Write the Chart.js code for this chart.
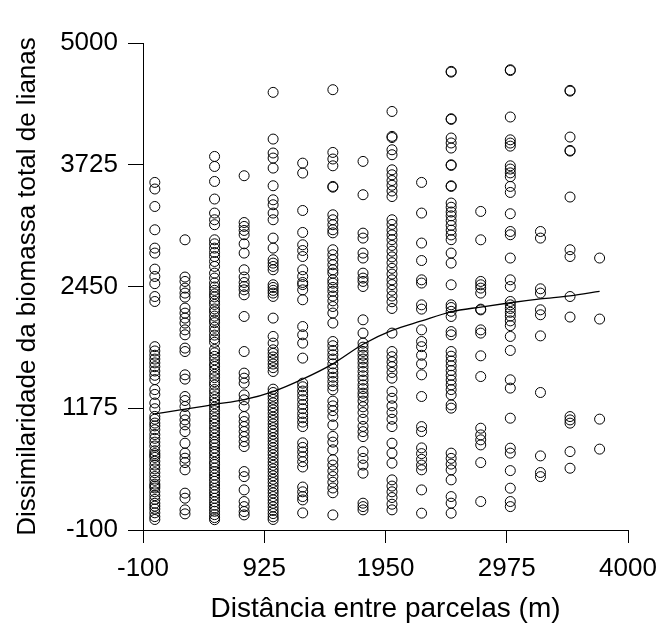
<!DOCTYPE html>
<html>
<head>
<meta charset="utf-8">
<script src="https://cdn.jsdelivr.net/npm/chart.js@4/dist/chart.umd.min.js"></script>
<style>
  html, body { margin: 0; padding: 0; background: #ffffff; }
  #wrap { width: 662px; height: 626px; }
</style>
</head>
<body>
<div id="wrap"><canvas id="c" width="662" height="626"></canvas></div>
<script>
// Tick labels
const xTicks = [-100, 925, 1950, 2975, 4000];
const yTicks = [-100, 1175, 2450, 3725, 5000];

// Distances (m) of each column of points
const distances = [0, 255, 505, 755, 1000, 1250, 1505, 1760, 2005, 2255, 2505, 2755, 3005, 3260, 3510, 3760];

// Dissimilarity values read for each distance
const d0 = [3540, 3471, 3288, 3044, 2852, 2800, 2632, 2555, 2480, 2345, 2293,
  1820, 1775, 1730, 1690, 1650, 1610, 1565, 1520, 1475, 1370, 1320, 1230, 1170,
  1090, 1060, 1020, 990, 950, 900, 860, 820, 780, 730, 700, 680, 660, 620, 580, 540, 500, 460, 420, 380, 360, 340, 300, 260, 220, 180, 150, 120, 80, 40, 10];
const d250 = [2939, 2549, 2503, 2433, 2381, 2339, 2224, 2171, 2119, 2067, 1996, 1944, 1805, 1769, 1525, 1480, 1298, 1256, 1193, 1106, 1053, 1001, 931, 809, 705, 652, 606, 530, 286, 233, 111, 69];
const d500 = [3812, 3707, 3550, 3366, 3219, 3149, 3097, 2939, 2897, 2852, 2806, 2764, 2712, 2660, 2590, 2538, 2486,
  2445, 2410, 2372, 2341, 2296, 2262, 2215, 2183, 2140, 2098, 2071, 2024, 1985, 1941, 1902, 1866, 1790, 1755, 1718, 1682, 1640, 1611, 1572, 1530, 1496, 1452, 1418, 1371, 1337, 1296, 1262, 1225, 1187, 1150, 1113, 1075, 1042, 1006, 968, 931, 897, 860, 822, 795, 758, 721, 690, 652, 611, 585, 548, 512, 476, 441, 409, 372, 335, 301, 268, 232, 195, 160, 128, 96, 61, 30, 8];
const d750 = [3610, 3120, 3079, 3037, 2992, 2897, 2800, 2625, 2549, 2492, 2450, 2415, 2363, 2136, 1769, 1543, 1490, 1438, 1315, 1263, 1193, 1088, 1036, 983, 931, 878, 826, 774, 512, 459, 320, 198, 145, 93, 58];
const d1000 = [4483, 3994, 3848, 3795, 3690, 3505, 3358, 3306, 3219, 3149, 2957, 2852, 2730, 2695, 2660, 2625, 2468, 2440, 2410, 2381, 2346, 2119, 1927, 1857, 1787, 1750, 1712, 1675, 1638, 1600, 1560,
  1375, 1340, 1302, 1268, 1231, 1190, 1158, 1121, 1082, 1047, 1010, 972, 940, 903, 866, 830, 795, 760, 722, 688, 650, 612, 577, 540, 505, 468, 431, 397, 360, 322, 288, 250, 215, 180, 142, 105, 72, 38, 10];
const d1250 = [3742, 3638, 3246, 3016, 2887, 2827, 2764, 2625, 2555, 2492, 2470, 2415, 2311, 2031, 1944, 1857, 1700, 1438, 1400, 1355, 1310, 1265, 1215, 1170, 1120, 1075, 1030, 983, 813, 765, 718, 668, 615, 560, 350, 300, 250, 215, 79];
const d1500 = [4511, 3854, 3785, 3714, 3498, 3490, 3201, 3149, 3097, 3044, 3012, 2835, 2783, 2730, 2678, 2625, 2590, 2520, 2485, 2440, 2400, 2350, 2300, 2240, 2172, 2067,
  1874, 1830, 1780, 1735, 1690, 1640, 1590, 1545, 1500, 1455, 1410, 1368, 1250, 1200, 1150, 1090, 1000, 880, 820, 740, 635, 580, 520, 460, 400, 340, 290, 58];
const d1750 = [3760, 3411, 3009, 2957, 2800, 2748, 2590, 2538, 2503, 2450, 2101, 1962, 1857, 1815, 1770, 1730, 1690, 1650, 1605, 1560, 1515, 1470, 1420, 1380, 1333, 1298, 1250, 1190, 1130, 1060, 985, 930, 878, 721, 650, 580, 495, 181, 145, 111];
const d2000 = [4283, 4022, 4010, 3882, 3830, 3672, 3620, 3560, 3510, 3450, 3392, 3149, 3100, 3040, 2990, 2940, 2880, 2820, 2760, 2700, 2640, 2580, 2520, 2470, 2410, 2350, 2290, 2220, 1962, 1769, 1715, 1660, 1610, 1550, 1490, 1350, 1280, 1200, 1130, 1060, 983, 809, 705, 600, 425, 360, 300, 240, 170, 111];
const d2250 = [3540, 3219, 2905, 2722, 2520, 2486, 2258, 2213, 1996, 1874, 1820, 1730, 1640, 1525, 1298, 983, 931, 760, 700, 640, 580, 530, 320, 76];
const d2500 = [4703, 4695, 4207, 4200, 4005, 3953, 3900, 3725, 3718, 3505, 3498, 3324, 3280, 3230, 3190, 3140, 3090, 3040, 2990, 2940, 2800, 2695, 2468, 2258, 2230, 2190, 2136, 1978, 1944, 1769, 1720, 1670, 1620, 1570, 1520, 1470, 1420, 1370, 1315, 1210, 1176, 705, 650, 590, 530, 425, 250, 181, 76];
const d2750 = [3236, 2939, 2503, 2468, 2433, 2381, 2213, 2205, 1996, 1962, 1724, 1507, 966, 896, 844, 791, 606, 198];
const d3000 = [4720, 4712, 4225, 3986, 3952, 3920, 3714, 3680, 3640, 3600, 3498, 3435, 3212, 3026, 2992, 2748, 2520, 2450, 2293, 2258, 2220, 2180, 2140, 2090, 2040, 1927, 1780, 1473, 1386, 1071, 757, 705, 522, 338, 198, 145];
const d3250 = [3026, 2957, 2426, 2381, 2206, 2154, 1933, 1340, 676, 502, 459];
const d3500 = [4504, 4496, 4015, 3875, 3868, 3387, 2835, 2764, 2345, 2130, 1088, 1053, 1019, 721, 547];
const d3750 = [2748, 2109, 1061, 747];

// Fitted trend curve
const trendX = [0, 255, 505, 755, 1000, 1250, 1505, 1760, 2005, 2255, 2505, 2755, 3005, 3260, 3510, 3760];
const trendY = [1115, 1165, 1215, 1265, 1350, 1480, 1640, 1845, 1990, 2090, 2185, 2235, 2280, 2320, 2352, 2398];

const columns = [d0, d250, d500, d750, d1000, d1250, d1500, d1750, d2000, d2250, d2500, d2750, d3000, d3250, d3500, d3750];
const scatterPoints = [];
columns.forEach((col, i) => col.forEach(v => scatterPoints.push({x: distances[i], y: v})));
const trendPoints = trendX.map((x, i) => ({x: x, y: trendY[i]}));

const FONT = "'Liberation Sans', Arial, sans-serif";

new Chart(document.getElementById('c'), {
  type: 'scatter',
  data: {
    datasets: [
      {
        data: scatterPoints,
        showLine: false,
        pointStyle: 'circle',
        pointRadius: 5,
        pointBorderWidth: 1,
        borderColor: '#000000',
        backgroundColor: 'rgba(0,0,0,0)',
        pointBackgroundColor: 'rgba(0,0,0,0)',
        pointBorderColor: '#000000'
      },
      {
        data: trendPoints,
        showLine: true,
        pointRadius: 0,
        borderColor: '#000000',
        borderWidth: 1.3,
        tension: 0.4,
        cubicInterpolationMode: 'monotone',
        fill: false
      }
    ]
  },
  options: {
    responsive: false,
    animation: false,
    layout: { padding: { left: 12, top: 43, right: 34, bottom: 0 } },
    plugins: { legend: { display: false }, tooltip: { enabled: false } },
    scales: {
      x: {
        type: 'linear',
        min: -100, max: 4000,
        afterBuildTicks: (s) => { s.ticks = xTicks.map(v => ({value: v})); },
        afterFit: (s) => { s.height = 96; s.paddingRight = 0; s.paddingLeft = 0; },
        ticks: { color: '#000', font: { family: FONT, size: 26 }, padding: 10, maxRotation: 0, autoSkip: false, callback: (v) => String(v) },
        grid: { drawOnChartArea: false, drawTicks: true, tickLength: 13, color: '#000', lineWidth: 1 },
        border: { display: true, color: '#000', width: 1 },
        title: { display: true, text: 'Distância entre parcelas (m)', color: '#000', font: { family: FONT, size: 28 }, padding: 0 }
      },
      y: {
        type: 'linear',
        min: -100, max: 5000,
        afterBuildTicks: (s) => { s.ticks = yTicks.map(v => ({value: v})); },
        afterFit: (s) => { s.width = 131; s.paddingTop = 0; s.paddingBottom = 0; },
        ticks: { color: '#000', font: { family: FONT, size: 26 }, padding: 10, autoSkip: false, callback: (v) => String(v) },
        grid: { drawOnChartArea: false, drawTicks: true, tickLength: 15, color: '#000', lineWidth: 1 },
        border: { display: true, color: '#000', width: 1 },
        title: { display: true, text: 'Dissimilaridade da biomassa total de lianas', color: '#000', font: { family: FONT, size: 26 }, padding: 0 }
      }
    }
  }
});
</script>
</body>
</html>
